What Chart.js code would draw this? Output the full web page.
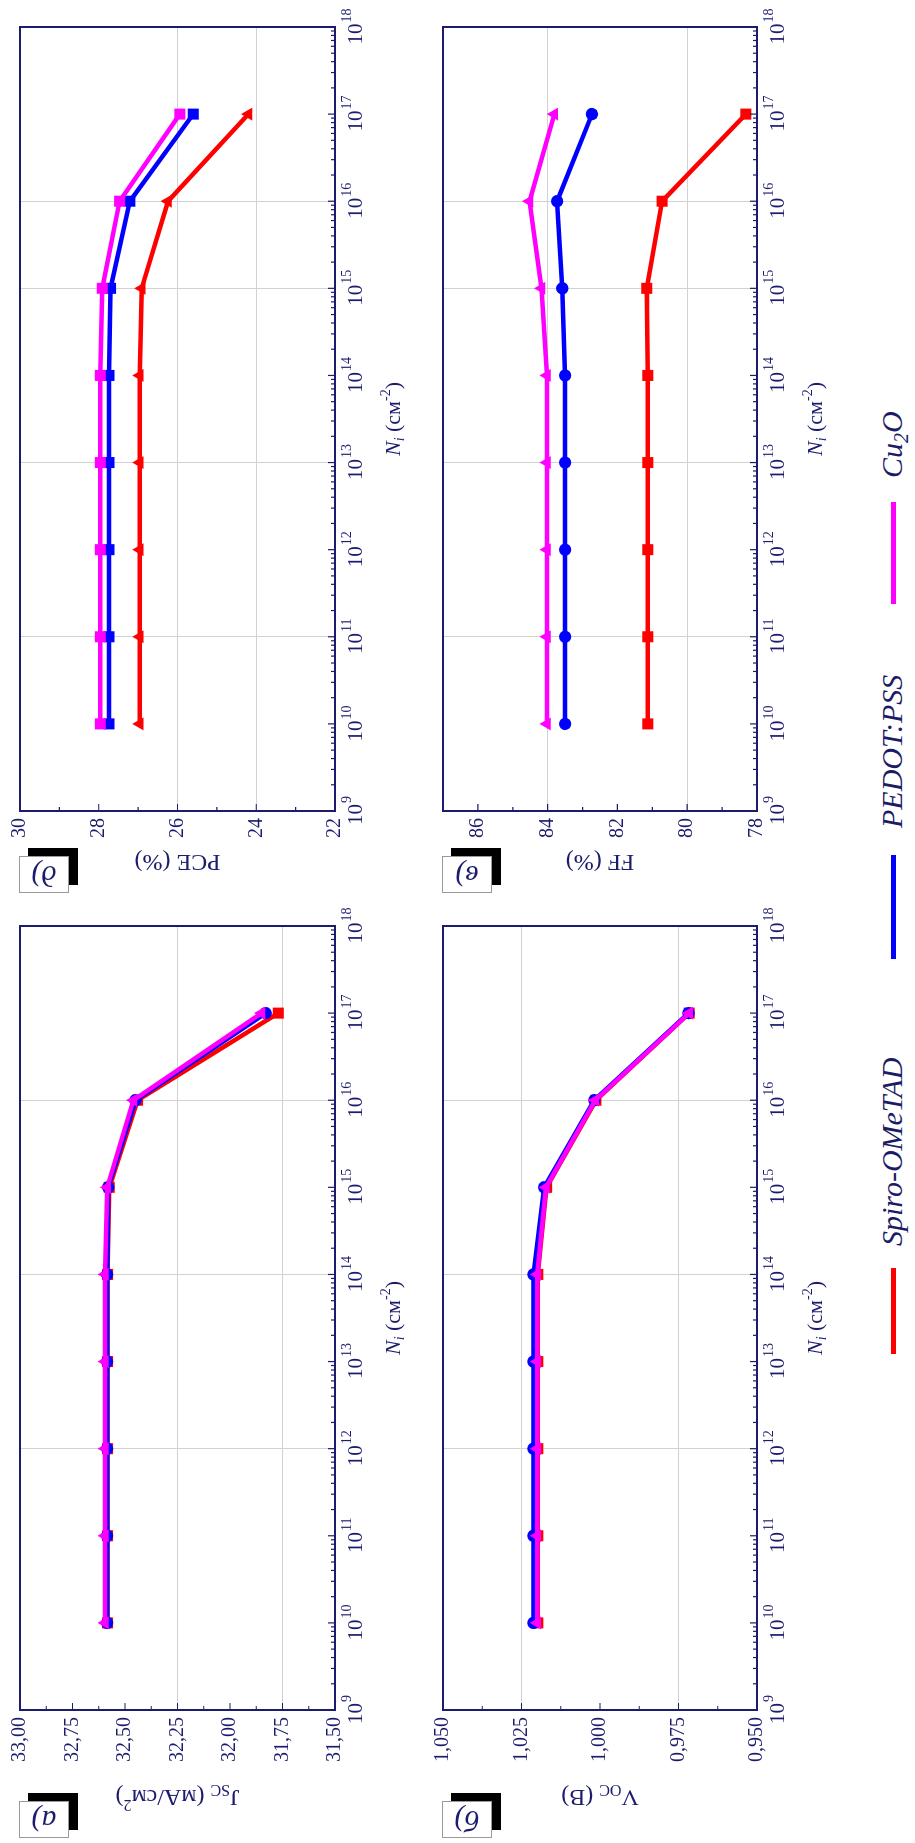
<!DOCTYPE html>
<html>
<head>
<meta charset="utf-8">
<script src="https://cdn.jsdelivr.net/npm/chart.js@4.4.0/dist/chart.umd.min.js"></script>
<style>
html, body { margin: 0; padding: 0; background: #fff; width: 915px; height: 1843px; overflow: hidden; }
#fig { position: absolute; left: 0; top: 0; width: 1843px; height: 915px; background: #fff;
       transform-origin: 0 0; transform: translate(0, 1843px) rotate(-90deg); }
#fig canvas { position: absolute; }
.sw { position: absolute; height: 5px; }
.lg { position: absolute; font: italic 30px "Liberation Serif"; color: #1c1c66; line-height: 30px; white-space: nowrap; }
.lg sub { font-size: 20px; vertical-align: -6px; line-height: 0; }
</style>
</head>
<body>
<div id="fig">
  <canvas id="cJsc" width="950" height="422" style="left:0;top:0"></canvas>
  <canvas id="cPce" width="918" height="422" style="left:925px;top:0"></canvas>
  <canvas id="cVoc" width="950" height="422" style="left:0;top:422px"></canvas>
  <canvas id="cFf" width="918" height="422" style="left:925px;top:422px"></canvas>

  <div class="sw" style="left:489px;top:891px;width:86px;background:#ff0000"></div>
  <div class="lg" style="left:597px;top:877px">Spiro-OMeTAD</div>
  <div class="sw" style="left:884px;top:891px;width:104px;background:#0000ff"></div>
  <div class="lg" style="left:1015px;top:877px">PEDOT:PSS</div>
  <div class="sw" style="left:1239px;top:891px;width:102px;background:#ff00ff"></div>
  <div class="lg" style="left:1365px;top:877px">Cu<sub>2</sub>O</div>
</div>

<script>
// defect density, cm^-2
const Ni = [1e10, 1e11, 1e12, 1e13, 1e14, 1e15, 1e16, 1e17];

const jscSpiro = [32.583, 32.583, 32.583, 32.583, 32.583, 32.575, 32.44, 31.77];
const jscPedot = [32.585, 32.585, 32.585, 32.585, 32.585, 32.58, 32.45, 31.83];
const jscCu2O  = [32.595, 32.595, 32.595, 32.595, 32.595, 32.585, 32.46, 31.85];

const vocSpiro = [1.0198, 1.0198, 1.0198, 1.0198, 1.0198, 1.0170, 1.0013, 0.9716];
const vocPedot = [1.0212, 1.0212, 1.0212, 1.0212, 1.0212, 1.0178, 1.0018, 0.9718];
const vocCu2O  = [1.0200, 1.0200, 1.0200, 1.0200, 1.0200, 1.0172, 1.0015, 0.9716];

const ffSpiro = [81.13, 81.13, 81.13, 81.13, 81.13, 81.16, 80.72, 78.32];
const ffPedot = [83.50, 83.50, 83.50, 83.50, 83.50, 83.58, 83.73, 82.73];
const ffCu2O  = [84.02, 84.02, 84.02, 84.02, 84.02, 84.18, 84.52, 83.81];

const pceSpiro = [26.96, 26.96, 26.96, 26.96, 26.96, 26.91, 26.24, 24.20];
const pcePedot = [27.74, 27.74, 27.74, 27.74, 27.74, 27.70, 27.21, 25.60];
const pceCu2O  = [27.96, 27.96, 27.96, 27.96, 27.96, 27.91, 27.47, 25.94];

const xTicks = [1e9, 1e10, 1e11, 1e12, 1e13, 1e14, 1e15, 1e16, 1e17, 1e18];
const jscTicks = [31.5, 31.75, 32, 32.25, 32.5, 32.75, 33];
const vocTicks = [0.95, 0.975, 1, 1.025, 1.05];
const ffTicks = [78, 80, 82, 84, 86];
const pceTicks = [22, 24, 26, 28, 30];

const jscGrid = [32.25, 31.75];
const vocGrid = [1.025, 0.975];
const ffGrid = [84, 80];
const pceGrid = [26, 24];
const leftXGrid = [1e12, 1e14, 1e16];
const rightXGrid = [1e11, 1e13, 1e15, 1e16];

const RED = '#ff0000', BLUE = '#0000ff', MAG = '#ff00ff';
const NAVY = '#1c1c6e';
const GRID = '#d2d2d2';
const FONT = '"Liberation Serif", "Times New Roman", serif';

function richText(ctx, parts, x, y, size, rot, color) {
  ctx.save();
  ctx.translate(x, y);
  ctx.rotate(rot);
  ctx.fillStyle = color;
  ctx.textAlign = 'left';
  ctx.textBaseline = 'middle';
  const fontOf = p => (p.i ? 'italic ' : '') + Math.round((p.sub || p.sup) ? size * 0.65 : size) + 'px ' + FONT;
  let total = 0;
  parts.forEach(p => { ctx.font = fontOf(p); p.w = ctx.measureText(p.t).width; total += p.w; });
  let cx = -total / 2;
  parts.forEach(p => {
    ctx.font = fontOf(p);
    const dy = p.sub ? size * 0.28 : p.sup ? -size * 0.36 : 0;
    ctx.fillText(p.t, cx, dy);
    cx += p.w;
  });
  ctx.restore();
}

const xTitle = [{t: 'N', i: 1}, {t: 'i', i: 1, sub: 1}, {t: ' (см'}, {t: '-2', sup: 1}, {t: ')'}];

const panelDecor = {
  id: 'panelDecor',
  afterDraw(chart, args, o) {
    const { ctx, chartArea: a, scales: { x, y } } = chart;
    ctx.save();
    // inward tick marks
    ctx.strokeStyle = NAVY;
    ctx.lineWidth = 1.2;
    ctx.beginPath();
    xTicks.forEach((d, i) => {
      const px = x.getPixelForValue(d);
      ctx.moveTo(px, a.bottom); ctx.lineTo(px, a.bottom - 7);
      if (i < xTicks.length - 1) {
        for (let k = 2; k <= 9; k++) {
          const mx = x.getPixelForValue(k * d);
          ctx.moveTo(mx, a.bottom); ctx.lineTo(mx, a.bottom - 4);
        }
      }
    });
    o.yTicks.forEach((v, i) => {
      const py = y.getPixelForValue(v);
      ctx.moveTo(a.left, py); ctx.lineTo(a.left + 7, py);
      if (i < o.yTicks.length - 1) {
        const my = y.getPixelForValue((v + o.yTicks[i + 1]) / 2);
        ctx.moveTo(a.left, my); ctx.lineTo(a.left + 4, my);
      }
    });
    ctx.stroke();
    // frame
    ctx.lineWidth = 2;
    ctx.strokeRect(a.left, a.top, a.right - a.left, a.bottom - a.top);
    // x tick labels 10^n
    ctx.fillStyle = NAVY;
    ctx.textAlign = 'left';
    ctx.textBaseline = 'alphabetic';
    xTicks.forEach(d => {
      const px = x.getPixelForValue(d);
      const e = String(Math.round(Math.log10(d)));
      ctx.font = '21px ' + FONT;
      const w1 = ctx.measureText('10').width;
      ctx.font = '14px ' + FONT;
      const w2 = ctx.measureText(e).width;
      const x0 = px - (w1 + w2) / 2;
      ctx.font = '21px ' + FONT;
      ctx.fillText('10', x0, a.bottom + 27);
      ctx.font = '14px ' + FONT;
      ctx.fillText(e, x0 + w1 + 1, a.bottom + 16);
    });
    richText(ctx, xTitle, (a.left + a.right) / 2, a.bottom + 59, 22, 0, NAVY);
    richText(ctx, o.title, o.titleX, (a.top + a.bottom) / 2, 24, -Math.PI / 2, NAVY);
    // panel label box
    const bx = o.labelX, by = a.top - 1;
    ctx.fillStyle = '#000';
    ctx.fillRect(bx + 8, by + 9, 37, 50);
    ctx.fillStyle = '#fff';
    ctx.fillRect(bx, by, 37, 50);
    ctx.strokeStyle = '#9a9a9a';
    ctx.lineWidth = 1;
    ctx.strokeRect(bx + 0.5, by + 0.5, 36, 49);
    richText(ctx, [{t: o.label, i: 1}], bx + 19, by + 25, 30, -Math.PI / 2, NAVY);
    ctx.restore();
  }
};

function series(label, vals, color, style, order) {
  const r = style === 'rect' ? 7.8 : style === 'triangle' ? 7.5 : 6.2;
  return {
    label,
    data: Ni.map((n, i) => ({ x: n, y: vals[i] })),
    borderColor: color,
    backgroundColor: color,
    borderWidth: 4.5,
    pointStyle: style,
    pointRadius: r,
    pointBorderWidth: 0,
    tension: 0,
    order
  };
}

function makePanel(p) {
  new Chart(document.getElementById(p.id), {
    type: 'line',
    data: { datasets: p.datasets },
    options: {
      responsive: false,
      animation: false,
      layout: { padding: { left: 0, right: p.pr, top: p.pt, bottom: 0 } },
      plugins: {
        legend: { display: false },
        tooltip: { enabled: false },
        panelDecor: p
      },
      scales: {
        x: {
          type: 'logarithmic',
          min: 1e9,
          max: 1e18,
          afterBuildTicks: s => { s.ticks = xTicks.map(v => ({ value: v })); },
          afterFit: s => { s.height = 87; },
          ticks: { display: false },
          grid: {
            drawTicks: false,
            lineWidth: 1,
            color: c => (c.tick && p.xGrid.includes(c.tick.value)) ? GRID : 'rgba(0,0,0,0)'
          },
          border: { display: false }
        },
        y: {
          min: p.yMin,
          max: p.yMax,
          afterBuildTicks: s => { s.ticks = p.yTicks.map(v => ({ value: v })); },
          afterFit: s => { s.width = p.yw; },
          ticks: {
            padding: 7,
            color: NAVY,
            font: { family: FONT, size: 20 },
            callback: v => v.toFixed(p.dec).replace('.', ',')
          },
          grid: {
            drawTicks: false,
            lineWidth: 1,
            color: c => (c.tick && p.yGrid.includes(c.tick.value)) ? GRID : 'rgba(0,0,0,0)'
          },
          border: { display: false }
        }
      }
    },
    plugins: [panelDecor]
  });
}

makePanel({
  id: 'cJsc', yw: 133, pr: 33, pt: 20, yMin: 31.5, yMax: 33, yTicks: jscTicks, yGrid: jscGrid,
  xGrid: leftXGrid, dec: 2, titleX: 47, labelX: 5, label: 'а)',
  title: [{t: 'J'}, {t: 'SC', sub: 1}, {t: ' (мА/см'}, {t: '2', sup: 1}, {t: ')'}],
  datasets: [
    series('Spiro-OMeTAD', jscSpiro, RED, 'rect', 2),
    series('PEDOT:PSS', jscPedot, BLUE, 'circle', 1),
    series('Cu2O', jscCu2O, MAG, 'triangle', 0)
  ]
});

makePanel({
  id: 'cVoc', yw: 133, pr: 33, pt: 21, yMin: 0.95, yMax: 1.05, yTicks: vocTicks, yGrid: vocGrid,
  xGrid: leftXGrid, dec: 3, titleX: 47, labelX: 5, label: 'б)',
  title: [{t: 'V'}, {t: 'OC', sub: 1}, {t: ' (В)'}],
  datasets: [
    series('Spiro-OMeTAD', vocSpiro, RED, 'rect', 2),
    series('PEDOT:PSS', vocPedot, BLUE, 'circle', 1),
    series('Cu2O', vocCu2O, MAG, 'triangle', 0)
  ]
});

makePanel({
  id: 'cFf', yw: 107, pr: 27, pt: 21, yMin: 78, yMax: 87, yTicks: ffTicks, yGrid: ffGrid,
  xGrid: rightXGrid, dec: 0, titleX: 57, labelX: 25, label: 'в)',
  title: [{t: 'FF (%)'}],
  datasets: [
    series('Spiro-OMeTAD', ffSpiro, RED, 'rect', 2),
    series('PEDOT:PSS', ffPedot, BLUE, 'circle', 1),
    series('Cu2O', ffCu2O, MAG, 'triangle', 0)
  ]
});

makePanel({
  id: 'cPce', yw: 107, pr: 27, pt: 20, yMin: 22, yMax: 30, yTicks: pceTicks, yGrid: pceGrid,
  xGrid: rightXGrid, dec: 0, titleX: 57, labelX: 25, label: 'д)',
  title: [{t: 'PCE (%)'}],
  datasets: [
    series('Spiro-OMeTAD', pceSpiro, RED, 'triangle', 2),
    series('PEDOT:PSS', pcePedot, BLUE, 'rect', 1),
    series('Cu2O', pceCu2O, MAG, 'rect', 0)
  ]
});
</script>
</body>
</html>
